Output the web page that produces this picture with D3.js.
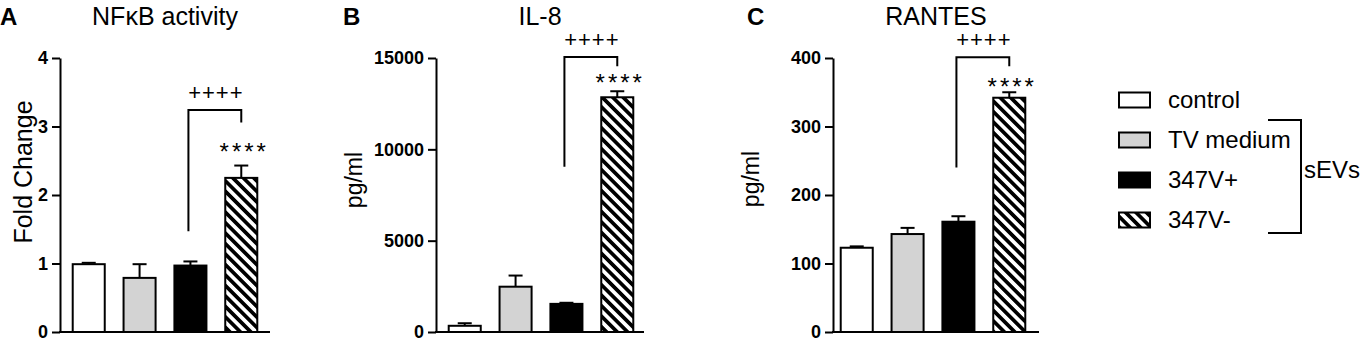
<!DOCTYPE html>
<html>
<head>
<meta charset="utf-8">
<script src="https://cdn.jsdelivr.net/npm/d3@7"></script>
<style>
  body { margin: 0; background: #fff; }
  svg { display: block; font-family: Arial, "Liberation Sans", Helvetica, sans-serif; }
</style>
</head>
<body>
<svg></svg>
<script>
// ---- data ----
const categories = ['control', 'TV medium', '347V+', '347V-'];
const fills = ['#ffffff', '#d3d3d3', '#000000', 'url(#hatch)'];

const nfkbMeans = [0.99, 0.79, 0.97, 2.25];
const nfkbErrTop = [1.01, 0.99, 1.03, 2.43];
const nfkbTicks = [0, 1, 2, 3, 4];

const il8Means = [340, 2480, 1540, 12850];
const il8ErrTop = [480, 3090, 1600, 13180];
const il8Ticks = [0, 5000, 10000, 15000];

const rantesMeans = [123, 143, 161, 342];
const rantesErrTop = [125, 152, 169, 350];
const rantesTicks = [0, 100, 200, 300, 400];

// significance bracket (value units): left leg bottom, top, right leg bottom
const bracketA = [1.47, 3.24, 3.06];
const bracketB = [9050, 15050, 14550];
const bracketC = [240, 401, 388];

const size = {w: 1363, h: 341};
const svg = d3.select('svg').attr('width', size.w).attr('height', size.h);

// hatch pattern for the 347V- bars
const defs = svg.append('defs');
defs.append('pattern')
    .attr('id', 'hatch')
    .attr('patternUnits', 'userSpaceOnUse')
    .attr('width', 7.4).attr('height', 7.4)
    .attr('patternTransform', 'rotate(-45)')
  .call(p => {
      p.append('rect').attr('width', 7.4).attr('height', 7.4).attr('fill', '#fff');
      p.append('rect').attr('width', 3.7).attr('height', 7.4).attr('fill', '#000');
  });

const panels = [
    {letter: 'A', letterX: 0, title: 'NF\u03baB activity', ylabel: 'Fold Change',
     ylabelX: 32, ylabelY: 172, ylabelSize: 25,
     means: nfkbMeans, err: nfkbErrTop, ticks: nfkbTicks, max: 4, bracket: bracketA,
     axisX: 60, axisEnd: 270, bandX: 60, starLift: 7},
    {letter: 'B', letterX: 343, title: 'IL-8', ylabel: 'pg/ml',
     ylabelX: 362, ylabelY: 180, ylabelSize: 23,
     means: il8Means, err: il8ErrTop, ticks: il8Ticks, max: 15000, bracket: bracketB,
     axisX: 436, axisEnd: 644, bandX: 436, starLift: 1},
    {letter: 'C', letterX: 747, title: 'RANTES', ylabel: 'pg/ml',
     ylabelX: 759, ylabelY: 179, ylabelSize: 23,
     means: rantesMeans, err: rantesErrTop, ticks: rantesTicks, max: 400, bracket: bracketC,
     axisX: 833, axisEnd: 1039, bandX: 828, starLift: -2}
];

const y0 = 332, yTop = 58;

panels.forEach(p => {
    const g = svg.append('g');
    const x = d3.scaleBand()
        .domain(categories)
        .range([p.bandX, p.bandX + 210])
        .paddingInner(0.37)
        .paddingOuter(0.25);
    const y = d3.scaleLinear().domain([0, p.max]).range([y0, yTop]);

    // letter + title
    g.append('text').attr('x', p.letterX).attr('y', 25)
        .attr('font-size', 24).attr('font-weight', 'bold').text(p.letter);
    g.append('text').attr('x', (p.axisX + p.axisEnd) / 2).attr('y', 25)
        .attr('text-anchor', 'middle').attr('font-size', 25).text(p.title);

    // y label
    g.append('text')
        .attr('transform', `translate(${p.ylabelX},${p.ylabelY}) rotate(-90)`)
        .attr('text-anchor', 'middle').attr('font-size', p.ylabelSize).text(p.ylabel);

    // bars
    g.selectAll('rect.bar')
        .data(categories)
        .join('rect').classed('bar', true)
        .attr('x', d => x(d))
        .attr('y', (d, i) => y(p.means[i]))
        .attr('width', x.bandwidth())
        .attr('height', (d, i) => y0 - y(p.means[i]))
        .attr('fill', (d, i) => fills[i])
        .attr('stroke', '#000').attr('stroke-width', 2);

    // error bars (upper only)
    const eg = g.selectAll('g.err').data(categories).join('g').classed('err', true)
        .attr('stroke', '#000').attr('stroke-width', 2);
    eg.append('line')
        .attr('x1', d => x(d) + x.bandwidth() / 2).attr('x2', d => x(d) + x.bandwidth() / 2)
        .attr('y1', (d, i) => y(p.means[i])).attr('y2', (d, i) => y(p.err[i]));
    eg.append('line')
        .attr('x1', d => x(d) + x.bandwidth() / 2 - 7).attr('x2', d => x(d) + x.bandwidth() / 2 + 7)
        .attr('y1', (d, i) => y(p.err[i])).attr('y2', (d, i) => y(p.err[i]));

    // y axis
    const ya = g.append('g')
        .attr('transform', `translate(${p.axisX},0)`)
        .call(d3.axisLeft(y).tickValues(p.ticks).tickFormat(d3.format('d'))
            .tickSize(8).tickSizeOuter(0).tickPadding(4));
    ya.selectAll('path, line').attr('stroke', '#000').attr('stroke-width', 2);
    ya.selectAll('text').attr('font-size', 18).attr('font-weight', 'bold')
        .attr('font-family', 'Arial, "Liberation Sans", sans-serif').attr('fill', '#000');

    // x axis line
    g.append('line')
        .attr('x1', p.axisX - 1).attr('x2', p.axisEnd)
        .attr('y1', y0).attr('y2', y0)
        .attr('stroke', '#000').attr('stroke-width', 2);

    // significance bracket
    const lx = x(categories[2]) + x.bandwidth() / 2 - 2;
    const rx = x(categories[3]) + x.bandwidth() / 2;
    g.append('path')
        .attr('d', `M${lx},${y(p.bracket[0])}V${y(p.bracket[1])}H${rx}V${y(p.bracket[2])}`)
        .attr('fill', 'none').attr('stroke', '#000').attr('stroke-width', 2);
    g.append('text').attr('x', (lx + rx) / 2 + 1).attr('y', y(p.bracket[1]) - 10)
        .attr('text-anchor', 'middle').attr('font-size', 22).attr('letter-spacing', 1)
        .text('++++');
    g.append('text').attr('x', rx + 3).attr('y', y(p.err[3]) - p.starLift + 1)
        .attr('text-anchor', 'middle').attr('font-size', 24).attr('letter-spacing', 3)
        .text('****');
});

// legend
const ly = d3.scalePoint().domain(categories).range([100, 220]);
const lg = svg.append('g');
lg.selectAll('rect')
    .data(categories)
    .join('rect')
    .attr('x', 1119).attr('y', d => ly(d) - 7.5)
    .attr('width', 31).attr('height', 15)
    .attr('fill', (d, i) => fills[i])
    .attr('stroke', '#000').attr('stroke-width', 2);
lg.selectAll('text')
    .data(categories)
    .join('text')
    .attr('x', 1168).attr('y', d => ly(d) + 8)
    .attr('font-size', 24)
    .text(d => d);

// sEVs bracket
lg.append('path')
    .attr('d', 'M1268,120H1301V233H1268')
    .attr('fill', 'none').attr('stroke', '#000').attr('stroke-width', 2);
lg.append('text').attr('x', 1304).attr('y', 178).attr('font-size', 24).text('sEVs');
</script>
</body>
</html>
